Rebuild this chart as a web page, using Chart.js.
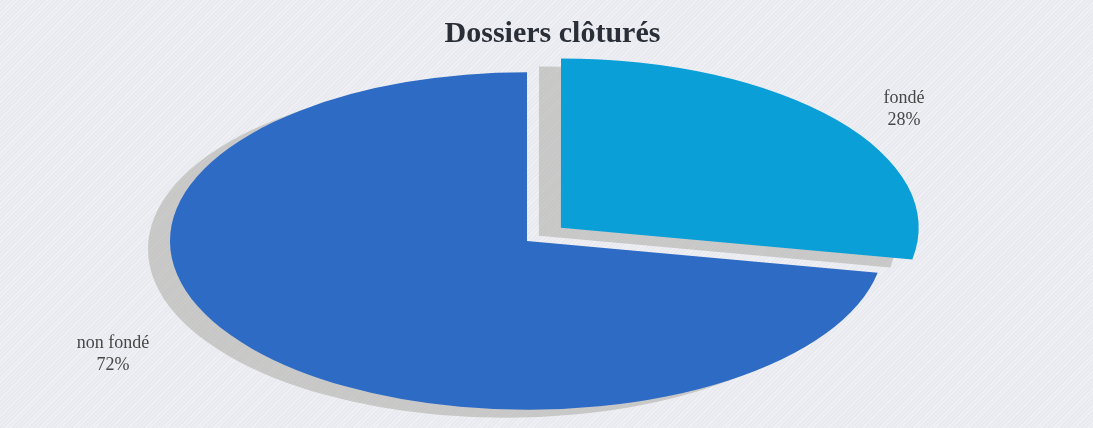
<!DOCTYPE html>
<html>
<head>
<meta charset="utf-8">
<script src="https://cdn.jsdelivr.net/npm/chart.js@4/dist/chart.umd.min.js"></script>
<style>
    html, body { margin: 0; padding: 0; }
    body {
        width: 1093px; height: 428px; overflow: hidden;
        background-color: #e9eaf0;
        background-image: repeating-linear-gradient(135deg, rgba(255,255,255,0.35) 0 1px, rgba(0,0,0,0) 1px 3px);
    }
    #wrap { width: 1093px; height: 428px; position: relative; }
</style>
</head>
<body>
<div id="wrap"><canvas id="pieChart"></canvas></div>
<script>
// Chart data
const chartTitle = "Dossiers clôturés";
const categories = ["fondé", "non fondé"];
const percentages = [28, 72];
const sliceColors = ["#0b9fd7", "#2e6bc5"];

// Layout tweaks (pixels): ellipse squash, explode distance, label nudges from the slice edge
const squash = 0.473;
const explode = [44, 0];
const labelNudge = [[68, -11], [-139, 6]];

// Squash the round pie into an ellipse and drop a flat shadow behind it
const ellipsePlugin = {
    id: "ellipse",
    beforeDatasetsDraw(chart) {
        const arc = chart.getDatasetMeta(0).data[0];
        const ctx = chart.ctx;
        ctx.save();
        ctx.translate(arc.x, arc.y);
        ctx.scale(1, squash);
        ctx.translate(-arc.x, -arc.y);
        ctx.shadowColor = "rgba(150,150,140,0.42)";
        ctx.shadowBlur = 0;
        ctx.shadowOffsetX = -22;
        ctx.shadowOffsetY = 8;
    },
    afterDatasetsDraw(chart) {
        const ctx = chart.ctx;
        ctx.restore();

        // Title
        ctx.save();
        ctx.fillStyle = "#2a2e37";
        ctx.font = "bold 30px 'Liberation Serif', serif";
        ctx.textAlign = "center";
        ctx.textBaseline = "middle";
        ctx.fillText(chartTitle, chart.width / 2 + 6, 34);
        ctx.restore();

        // Slice labels: name + percentage
        const meta = chart.getDatasetMeta(0);
        meta.data.forEach((arc, i) => {
            const p = arc.getProps(["x", "y", "startAngle", "endAngle", "outerRadius"], true);
            const mid = (p.startAngle + p.endAngle) / 2;
            const off = explode[i];
            const ex = p.x + Math.cos(mid) * (p.outerRadius + off);
            const ey = p.y + Math.sin(mid) * (p.outerRadius + off) * squash;
            const lx = ex + labelNudge[i][0];
            const ly = ey + labelNudge[i][1];
            ctx.save();
            ctx.fillStyle = "#474747";
            ctx.font = "18px 'Liberation Serif', serif";
            ctx.textAlign = "center";
            ctx.textBaseline = "middle";
            ctx.fillText(categories[i], lx, ly - 11);
            ctx.fillText(percentages[i] + "%", lx, ly + 11);
            ctx.restore();
        });
    }
};

const ctx = document.getElementById("pieChart").getContext("2d");
const chart = new Chart(ctx, {
    type: "pie",
    data: {
        labels: categories,
        datasets: [
            {
                data: percentages,
                backgroundColor: sliceColors,
                borderWidth: 0,
                // Chart.js v4 arcs move by offset / 4
                offset: explode.map(v => v * 4),
                hoverOffset: 0,
            },
        ],
    },
    options: {
        responsive: true,
        maintainAspectRatio: false,
        animation: false,
        events: [],
        radius: 357,
        layout: { padding: { left: 0, right: 39, top: 54, bottom: 0 } },
        plugins: {
            legend: { display: false },
            tooltip: { enabled: false },
            title: { display: false },
        },
    },
    plugins: [ellipsePlugin],
});
</script>
</body>
</html>
